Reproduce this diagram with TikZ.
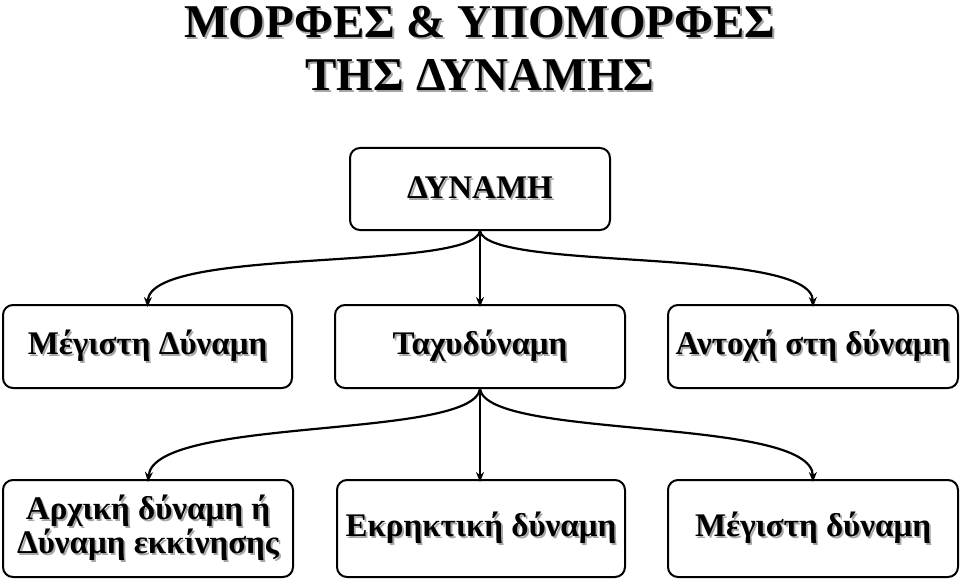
\documentclass[tikz,border=0pt]{standalone}
\usepackage{fontspec}
\setmainfont{Liberation Serif}
\usetikzlibrary{arrows.meta}
\newcommand{\shd}[1]{\makebox[0pt][l]{\raisebox{-1.8pt}{\hspace{1.8pt}\textcolor{black!35}{#1}}}#1}
\tikzset{
  box/.style={draw, line width=2pt, rounded corners=10pt, font=\bfseries\fontsize{33}{34}\selectfont, align=center},
  link/.style={-{Stealth[length=10pt,width=8pt]}, line width=2.2pt}
}
\begin{document}
\begin{tikzpicture}[x=1pt,y=-1pt]
  \useasboundingbox (0,0) rectangle (960,580);
  \node[font=\bfseries\fontsize{47}{53}\selectfont, align=center] (title) at (480,49)
     {\shd{ΜΟΡΦΕΣ \& ΥΠΟΜΟΡΦΕΣ}\\\shd{ΤΗΣ ΔΥΝΑΜΗΣ}};

  \node[box, minimum width=260pt, minimum height=82pt] (dyn) at (480,189) {\shd{ΔΥΝΑΜΗ}};

  \node[box, minimum width=289pt, minimum height=83pt] (max) at (147.5,346.5) {\shd{Μέγιστη Δύναμη}};
  \node[box, minimum width=290pt, minimum height=83pt] (tax) at (480,346.5) {\shd{Ταχυδύναμη}};
  \node[box, minimum width=290pt, minimum height=83pt] (ant) at (813,346.5) {\shd{Αντοχή στη δύναμη}};

  \node[box, minimum width=290pt, minimum height=97pt] (arx) at (148,528.5) {\shd{Αρχική δύναμη ή}\\\shd{Δύναμη εκκίνησης}};
  \node[box, minimum width=288pt, minimum height=97pt] (ekr) at (481,528.5) {\shd{Εκρηκτική δύναμη}};
  \node[box, minimum width=290pt, minimum height=97pt] (meg) at (813,528.5) {\shd{Μέγιστη δύναμη}};

  \coordinate (a1) at (dyn.south);
  \coordinate (a2) at (tax.south);

  \draw[link] (a1) .. controls (472,272) and (150,246) .. ([yshift=-3pt]max.north);
  \draw[link] (a1) -- ([yshift=-3pt]tax.north);
  \draw[link] (a1) .. controls (488,272) and (812,246) .. ([yshift=-3pt]ant.north);

  \draw[link] (a2) .. controls (472,440) and (154,416) .. ([yshift=-3pt]arx.north);
  \draw[link] (a2) -- ([xshift=-1pt,yshift=-3pt]ekr.north);
  \draw[link] (a2) .. controls (488,440) and (812,416) .. ([yshift=-3pt]meg.north);
\end{tikzpicture}
\end{document}
